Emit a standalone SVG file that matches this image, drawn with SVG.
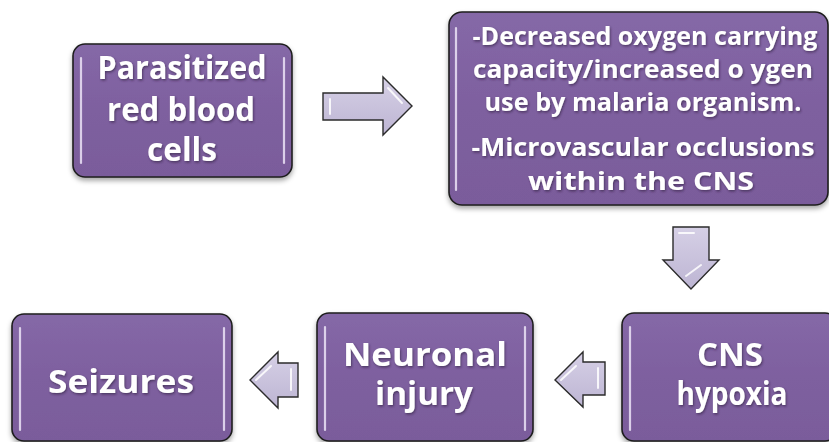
<svg xmlns="http://www.w3.org/2000/svg" width="829" height="442" viewBox="0 0 829 442">
<defs>
  <linearGradient id="boxFill" x1="0" y1="0" x2="0" y2="1">
    <stop offset="0" stop-color="#8568A7"/>
    <stop offset="0.5" stop-color="#7E609F"/>
    <stop offset="1" stop-color="#7A5C9B"/>
  </linearGradient>
  <linearGradient id="arrowFill" x1="0" y1="0" x2="0" y2="1">
    <stop offset="0" stop-color="#D6D0E6"/>
    <stop offset="1" stop-color="#BDB5D3"/>
  </linearGradient>
  <filter id="shadow" x="-10%" y="-10%" width="120%" height="130%">
    <feDropShadow dx="0" dy="3" stdDeviation="2.5" flood-color="#000" flood-opacity="0.35"/>
  </filter>
  <filter id="tshadow" x="-10%" y="-20%" width="120%" height="150%">
    <feDropShadow dx="1" dy="1.5" stdDeviation="1" flood-color="#2a1a3a" flood-opacity="0.6"/>
  </filter>
</defs>
<style>
  .box { fill: url(#boxFill); stroke: #1E1E1E; stroke-width: 1.6; filter: url(#shadow); }
  .hl { stroke: #E6DCF2; stroke-width: 2.2; stroke-linecap: round; opacity: 0.9; }
  .arrow { fill: url(#arrowFill); stroke: #2B2B2B; stroke-width: 1.4; stroke-linejoin: miter; }
  .ahl { fill: none; stroke: #FFFFFF; stroke-width: 2; stroke-linecap: round; opacity: 0.85; }
  .big { font-family: "Open Sans", "Liberation Sans", sans-serif; font-weight: bold; fill: #FFFFFF; font-size: 32px; text-anchor: middle; filter: url(#tshadow); }
  .small { font-family: "Open Sans", "Liberation Sans", sans-serif; font-weight: bold; fill: #FFFFFF; font-size: 24.5px; text-anchor: middle; filter: url(#tshadow); }
</style>

<g id="connectors">
  <g id="arrow-1">
    <polygon class="arrow" points="323,93 383,93 383,77 412,106 383,135 383,120 323,120"/>
    <path class="ahl" d="M330,99 L330,114 M388,88 L402,103"/>
  </g>
  <g id="arrow-2">
    <polygon class="arrow" points="673,227 709,227 709,260 719,260 691,289 663,260 673,260"/>
    <path class="ahl" d="M679,233 L694,233 M686,276 L701,265"/>
  </g>
  <g id="arrow-3">
    <polygon class="arrow" points="555,380 583,352 583,362 605,362 605,395 583,395 583,407"/>
    <path class="ahl" d="M561,380 L576,366 M598,368 L598,388"/>
  </g>
  <g id="arrow-4">
    <polygon class="arrow" points="250,380 278,352 278,363 298,363 298,397 278,397 278,408"/>
    <path class="ahl" d="M256,380 L271,366 M291,369 L291,390"/>
  </g>
</g>

<g id="node-parasitized">
  <rect class="box" x="73" y="44" width="219" height="133" rx="12"/>
  <line class="hl" x1="81" y1="58" x2="81" y2="163"/>
  <line class="hl" x1="284" y1="58" x2="284" y2="163"/>
  <text class="big" x="182" y="79" textLength="169" lengthAdjust="spacingAndGlyphs">Parasitized</text>
  <text class="big" x="181" y="121" textLength="148" lengthAdjust="spacingAndGlyphs">red blood</text>
  <text class="big" x="182" y="161" textLength="70" lengthAdjust="spacingAndGlyphs">cells</text>
</g>

<g id="node-mechanisms">
  <rect class="box" x="449" y="12" width="379" height="193" rx="13"/>
  <line class="hl" x1="456" y1="28" x2="456" y2="190"/>
  <text class="small" x="645" y="45" textLength="345" lengthAdjust="spacingAndGlyphs">-Decreased oxygen carrying</text>
  <text class="small" x="643" y="78" textLength="340" lengthAdjust="spacingAndGlyphs">capacity/increased o  ygen</text>
  <text class="small" x="643" y="111" textLength="317" lengthAdjust="spacingAndGlyphs">use by malaria organism.</text>
  <text class="small" x="643" y="156" textLength="343" lengthAdjust="spacingAndGlyphs">-Microvascular occlusions</text>
  <text class="small" x="641" y="190" textLength="226" lengthAdjust="spacingAndGlyphs">within the CNS</text>
</g>

<g id="node-cns-hypoxia">
  <rect class="box" x="622" y="313" width="215" height="128" rx="12"/>
  <line class="hl" x1="630" y1="327" x2="630" y2="430"/>
  <text class="big" x="730" y="366" textLength="66" lengthAdjust="spacingAndGlyphs">CNS</text>
  <text class="big" x="732" y="405" textLength="111" lengthAdjust="spacingAndGlyphs">hypoxia</text>
</g>

<g id="node-neuronal-injury">
  <rect class="box" x="317" y="313" width="216" height="128" rx="12"/>
  <line class="hl" x1="325" y1="327" x2="325" y2="430"/>
  <line class="hl" x1="525" y1="327" x2="525" y2="430"/>
  <text class="big" x="425" y="366" textLength="164" lengthAdjust="spacingAndGlyphs">Neuronal</text>
  <text class="big" x="424" y="405" textLength="98" lengthAdjust="spacingAndGlyphs">injury</text>
</g>

<g id="node-seizures">
  <rect class="box" x="12" y="314" width="220" height="127" rx="12"/>
  <line class="hl" x1="20" y1="328" x2="20" y2="430"/>
  <line class="hl" x1="224" y1="328" x2="224" y2="430"/>
  <text class="big" x="121" y="393" textLength="146" lengthAdjust="spacingAndGlyphs">Seizures</text>
</g>
</svg>
